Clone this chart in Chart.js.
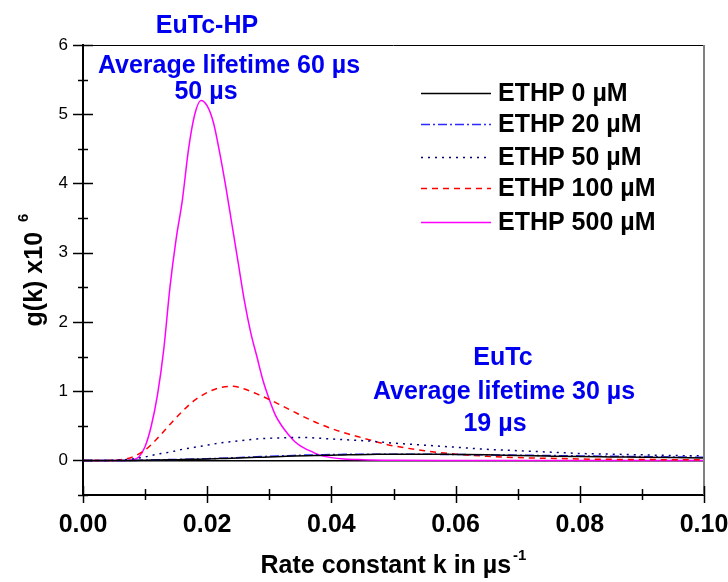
<!DOCTYPE html>
<html><head><meta charset="utf-8">
<script src="https://cdn.jsdelivr.net/npm/chart.js@4.4.0/dist/chart.umd.min.js"></script>
<style>html,body{margin:0;padding:0;background:#fff}#wrap{width:728px;height:582px}</style>
</head><body><div id="wrap"><canvas id="c" width="728" height="582"></canvas></div>
<script>
// Rate constant grids (µs^-1)
const kFine = [0,0.006,0.008,0.009,0.010,0.011,0.012,0.013,0.014,0.015,0.016,0.017,0.018,0.019,0.020,0.021,0.022,0.023,0.024,0.025,0.026,0.027,0.028,0.029,0.030,0.031,0.032,0.033,0.034,0.035,0.036,0.037,0.038,0.040,0.042,0.045,0.050,0.060,0.080,0.100];
const kBroad = [0,0.004,0.006,0.008,0.010,0.012,0.014,0.016,0.018,0.020,0.022,0.024,0.026,0.028,0.030,0.032,0.034,0.036,0.038,0.040,0.042,0.044,0.046,0.048,0.050,0.055,0.060,0.065,0.070,0.075,0.080,0.085,0.090,0.095,0.100];
// g(k) x10^6 values
const ethp0   = [0,0,0,0,0.003,0.005,0.008,0.012,0.016,0.02,0.026,0.032,0.038,0.044,0.05,0.056,0.062,0.067,0.071,0.075,0.079,0.083,0.086,0.088,0.09,0.09,0.085,0.08,0.07,0.062,0.055,0.05,0.045,0.04,0.035];
const ethp20  = [0,0,0,0,0.005,0.008,0.012,0.016,0.02,0.025,0.03,0.037,0.044,0.052,0.06,0.066,0.072,0.077,0.081,0.085,0.087,0.089,0.09,0.09,0.09,0.088,0.085,0.08,0.075,0.07,0.065,0.06,0.055,0.05,0.045];
const ethp50  = [0,0,0.005,0.02,0.05,0.09,0.12,0.16,0.19,0.22,0.25,0.27,0.29,0.31,0.32,0.325,0.33,0.33,0.32,0.31,0.3,0.29,0.28,0.265,0.25,0.22,0.19,0.16,0.14,0.12,0.1,0.09,0.08,0.07,0.065];
const ethp100 = [0,0,0.01,0.05,0.15,0.32,0.52,0.71,0.87,0.98,1.05,1.07,1.03,0.96,0.88,0.79,0.7,0.61,0.53,0.46,0.4,0.35,0.3,0.25,0.21,0.14,0.09,0.06,0.04,0.03,0.02,0.015,0.012,0.01,0.008];
const ethp500 = [0,0,0.01,0.05,0.2,0.5,0.95,1.6,2.5,3.2,3.76,4.5,5.0,5.2,5.12,4.88,4.45,3.95,3.4,2.85,2.3,1.85,1.5,1.15,0.88,0.65,0.5,0.38,0.28,0.21,0.16,0.12,0.08,0.04,0.02,0.01,0.003,0,0,0];
const seriesLabels = ['ETHP 0 µM','ETHP 20 µM','ETHP 50 µM','ETHP 100 µM','ETHP 500 µM'];
const xTicks = [0,0.02,0.04,0.06,0.08,0.10];
const yTicks = [0,1,2,3,4,5,6];

const pts = (ks, vs) => ks.map((k,i)=>({x:k,y:vs[i]}));
const FAM = '"Liberation Sans", Arial, sans-serif';
const BOLD = 'bold 25px ' + FAM;
const SUP = 'bold 15px ' + FAM;

const styles = [
  {c:'#000000', d:[]},
  {c:'#2a2aff', d:[9,3,2,3]},
  {c:'#00007a', d:[2,5]},
  {c:'#ff0000', d:[6,5]},
  {c:'#ff00ff', d:[]}
];
const dataSets = [pts(kBroad,ethp0), pts(kBroad,ethp20), pts(kBroad,ethp50), pts(kBroad,ethp100), pts(kFine,ethp500)];

const deco = {
  id:'deco',
  afterDraw(chart){
    const ctx = chart.ctx, xs = chart.scales.x, ys = chart.scales.y, a = chart.chartArea;
    ctx.save();
    // frame top and right
    ctx.strokeStyle = '#000'; ctx.lineWidth = 1;
    ctx.beginPath(); ctx.moveTo(a.left, a.top+0.5); ctx.lineTo(a.right, a.top+0.5); ctx.stroke();
    ctx.strokeStyle = '#808080'; ctx.lineWidth = 2;
    ctx.beginPath(); ctx.moveTo(a.right, a.top); ctx.lineTo(a.right, a.bottom); ctx.stroke();
    // y ticks
    ctx.strokeStyle = '#000'; ctx.lineWidth = 1.5;
    for (let v = -0.5; v <= 6.001; v += 0.5) {
      const y = Math.round(ys.getPixelForValue(v)) + 0.5;
      const major = Math.abs(v - Math.round(v)) < 1e-6;
      const h = major ? 10 : 5;
      ctx.beginPath(); ctx.moveTo(a.left - h, y); ctx.lineTo(a.left + h, y); ctx.stroke();
    }
    // x ticks
    for (let i = 0; i <= 10; i++) {
      const v = i * 0.01;
      const x = Math.round(xs.getPixelForValue(v)) + 0.5;
      const major = i % 2 === 0;
      ctx.beginPath();
      if (major) { ctx.moveTo(x, a.bottom - 9); ctx.lineTo(x, a.bottom + 8); }
      else { ctx.moveTo(x, a.bottom - 6); ctx.lineTo(x, a.bottom + 5); }
      ctx.stroke();
    }
    // legend
    ctx.font = BOLD; ctx.textBaseline = 'middle'; ctx.textAlign = 'left';
    const rows = [93,124,157,188,222];
    chart.data.datasets.forEach((ds,i)=>{
      const y = rows[i] + 0.5;
      ctx.strokeStyle = ds.borderColor; ctx.lineWidth = 1.5; ctx.setLineDash(ds.borderDash||[]);
      ctx.beginPath(); ctx.moveTo(421, y); ctx.lineTo(491, y); ctx.stroke();
      ctx.setLineDash([]);
      ctx.fillStyle = '#000'; ctx.fillText(ds.label, 498, rows[i] + 1);
    });
    // annotations
    ctx.fillStyle = '#0000f0'; ctx.textAlign = 'center';
    ctx.fillText('EuTc-HP', 207, 26);
    ctx.fillText('Average lifetime 60 µs', 229, 66);
    ctx.fillText('50 µs', 206, 92);
    ctx.fillText('EuTc', 503, 358);
    ctx.fillText('Average lifetime 30 µs', 504, 392);
    ctx.fillText('19 µs', 495, 424);
    // x title
    ctx.fillStyle = '#000';
    const xt = 'Rate constant k in µs';
    ctx.textAlign = 'left'; ctx.textBaseline = 'alphabetic';
    const w = ctx.measureText(xt).width;
    ctx.font = SUP;
    const ws = ctx.measureText('-1').width;
    const x0 = (a.left + a.right)/2 - (w + ws + 2)/2;
    ctx.font = BOLD; ctx.fillText(xt, x0, 573);
    ctx.font = SUP; ctx.fillText('-1', x0 + w + 2, 560);
    // y title
    ctx.save();
    ctx.translate(42, 270); ctx.rotate(-Math.PI/2);
    ctx.font = BOLD;
    const yt = 'g(k) x10';
    const wy = ctx.measureText(yt).width;
    ctx.font = SUP;
    const wys = ctx.measureText('6').width;
    const y0 = -(wy + wys + 10)/2;
    ctx.font = BOLD; ctx.fillText(yt, y0, 0);
    ctx.font = SUP; ctx.fillText('6', y0 + wy + 10, -14);
    ctx.restore();
    ctx.restore();
  }
};

new Chart(document.getElementById('c'), {
  type:'line',
  data:{ datasets: dataSets.map((d,i)=>({
    label: seriesLabels[i], data: d, borderColor: styles[i].c, borderDash: styles[i].d,
    borderWidth: 1.5, pointRadius: 0, fill:false, cubicInterpolationMode:'monotone'
  })) },
  options:{
    responsive:false, animation:false, devicePixelRatio:1,
    layout:{padding:{left:0,right:24,top:45,bottom:0}},
    plugins:{legend:{display:false}, title:{display:false}, tooltip:{enabled:false}},
    scales:{
      x:{ type:'linear', min:0, max:0.1,
        afterBuildTicks: s => { s.ticks = xTicks.map(v=>({value:v})); },
        afterFit: s => { s.height = 87; s.paddingLeft = 0; s.paddingRight = 0; },
        ticks:{ padding:15, color:'#000', font:{family:FAM, size:25, weight:'bold'},
          callback: v => Number(v).toFixed(2), maxRotation:0, autoSkip:false },
        grid:{ display:false, drawTicks:false },
        border:{ display:true, color:'#000', width:2 }
      },
      y:{ type:'linear', min:-0.5, max:6,
        afterBuildTicks: s => { s.ticks = [-0.5].concat(yTicks).map(v=>({value:v})); },
        afterFit: s => { s.width = 83; s.paddingTop = 0; s.paddingBottom = 0; },
        ticks:{ padding:15, color:'#000', font:{family:FAM, size:17},
          callback: v => v < 0 ? '' : String(v) },
        grid:{ drawTicks:false, lineWidth: c => (c.tick && c.tick.value === 0) ? 1.5 : 0, color:'#000' },
        border:{ display:true, color:'#000', width:2 }
      }
    }
  },
  plugins:[deco]
});
</script>
</body></html>
